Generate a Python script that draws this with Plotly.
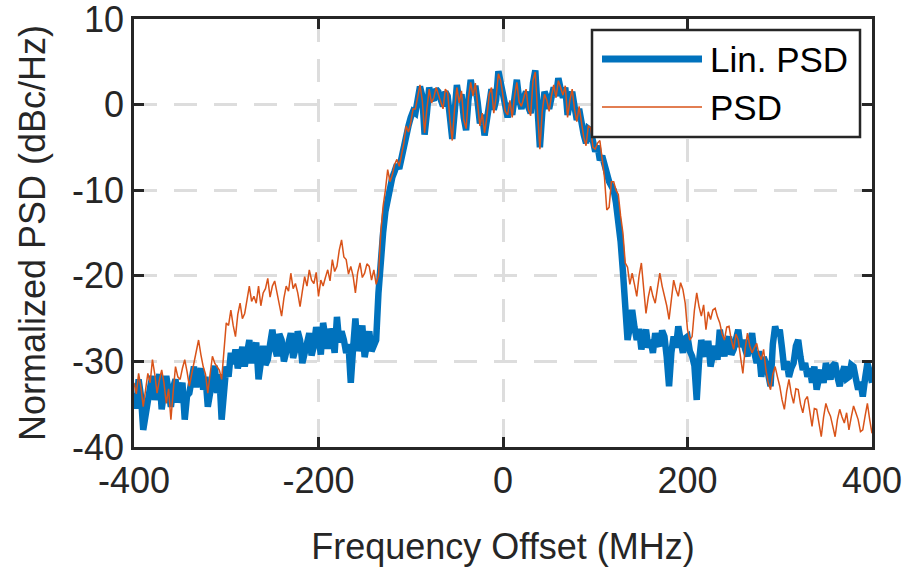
import plotly.graph_objects as go

# ---------------- data, 2.5 MHz grid ----------------
# Lin. PSD (blue)
lin_left = [  # -400 .. -140
    -33.7, -35.5, -32.1, -34.0, -38.0, -36.0, -34.5, -33.0, -31.7, -34.5,
    -32.9, -31.5, -35.6, -33.8, -31.7, -33.5, -35.3, -33.0, -32.1, -34.8,
    -33.7, -32.5, -36.8, -34.0, -33.7, -31.5, -30.6, -33.0, -31.4, -30.8,
    -33.3, -31.8, -35.3, -33.5, -31.7, -30.5, -33.7, -31.5, -36.8, -33.0,
    -30.6, -31.8, -29.0, -30.3, -28.6, -30.8, -29.8, -28.3, -30.6, -29.2,
    -27.5, -30.2, -29.0, -27.8, -32.1, -29.6, -28.2, -30.4, -29.8, -28.0,
    -26.3, -28.4, -29.4, -26.8, -27.5, -30.0, -29.0, -27.6, -26.7, -29.6,
    -28.6, -26.5, -27.5, -30.2, -29.0, -27.4, -26.7, -29.3, -28.2, -26.0,
    -27.1, -29.2, -25.5, -27.2, -28.5, -26.2, -27.0, -29.0, -24.8, -27.8,
    -26.5, -27.5, -29.0, -28.0, -32.5, -28.5, -25.0, -28.8, -27.0, -25.8,
    -29.5, -27.8, -26.5, -28.8, -28.0,
]
lin_band = [  # -137.5 .. 137.5
    -27.5, -22.0, -17.5, -15.0, -12.5, -11.0, -10.0, -8.5, -7.8, -7.0,
    -7.5, -6.0, -5.0, -3.0, -2.5, -1.5, -0.8, -1.0, 0.5, 2.1,
    1.0, -3.5, -1.0, 2.0, 0.8, 0.5, 1.8, 1.5, 0.6, -0.2,
    1.5, 1.0, -1.5, -4.0, -1.0, 2.3, 0.5, 1.2, -1.5, -3.0,
    0.5, 2.9, 1.2, 2.2, 0.3, -2.2, -1.2, -3.6, -1.8, 0.8,
    1.8, -0.6, 0.5, 3.9, 2.5, 0.8, -0.5, -1.5, 0.2, -1.2,
    0.8, 2.9, 0.6, -0.5, 0.8, 1.5, -0.3, -1.0, 2.5, 4.0,
    -0.5, -5.0, -1.0, 1.5, 0.8, -0.5, 0.8, 2.0, 1.0, 3.1,
    1.8, 0.8, 2.0, -1.2, 0.2, 1.5, -0.2, -1.8, -0.5, -2.5,
    -3.5, -4.5, -2.8, -3.0, -4.8, -5.5, -4.8, -6.5, -6.0, -7.2,
    -8.5, -9.0, -9.5, -10.0, -11.5, -13.5, -16.0, -19.5, -23.0, -27.5,
    -26.0,
]
lin_right = [  # 140 .. 400
    -24.0, -26.0, -27.5, -26.2, -28.6, -27.2, -26.3, -28.4, -27.5, -29.0,
    -26.7, -27.8, -28.2, -26.4, -27.1, -29.5, -32.9, -29.0, -27.1, -28.4,
    -25.9, -27.5, -29.0, -27.3, -27.1, -28.8, -29.4, -30.5, -34.5, -30.0,
    -27.5, -28.8, -29.4, -27.6, -30.6, -29.2, -28.2, -29.8, -26.3, -28.0,
    -29.4, -27.8, -27.1, -29.2, -28.6, -27.4, -26.3, -28.3, -27.5, -28.6,
    -29.4, -27.8, -26.7, -29.0, -30.2, -28.8, -31.8, -29.5, -30.2, -31.5,
    -32.9, -28.0, -25.9, -27.0, -26.3, -28.5, -31.0, -30.0, -31.8, -30.8,
    -30.2, -28.2, -27.5, -29.5, -31.0, -30.2, -31.8, -30.8, -32.5, -30.6,
    -33.3, -32.0, -31.0, -32.5, -30.2, -31.2, -32.1, -30.5, -30.2, -31.8,
    -32.9, -31.5, -30.6, -32.0, -31.8, -30.4, -30.6, -32.0, -33.3, -32.4,
    -34.1, -32.0, -30.2, -31.2, -32.5,
]

# PSD (orange)
psd_left = [  # -400 .. -140
    -32.5, -33.8, -31.4, -33.0, -35.3, -33.0, -31.4, -32.5, -29.8, -31.5,
    -33.7, -32.2, -31.0, -32.5, -34.9, -33.2, -36.8, -33.5, -30.6, -31.8,
    -32.1, -30.8, -29.8, -31.2, -32.9, -31.5, -30.2, -29.0, -27.5, -29.2,
    -30.6, -31.5, -33.7, -31.5, -29.4, -30.2, -30.6, -31.0, -32.1, -28.5,
    -25.5, -25.8, -24.0, -25.8, -27.1, -24.5, -23.2, -25.0, -24.4, -22.8,
    -21.2, -23.0, -22.4, -23.2, -21.2, -23.5, -22.0, -21.5, -20.3, -22.5,
    -21.2, -20.6, -22.0, -23.2, -24.7, -22.6, -21.2, -21.8, -19.7, -21.5,
    -20.9, -22.0, -23.6, -21.8, -20.1, -21.2, -19.3, -20.5, -20.9, -19.6,
    -22.4, -20.5, -21.2, -20.2, -19.3, -20.6, -18.1, -19.5, -18.9, -17.0,
    -15.8, -17.8, -18.1, -19.8, -18.9, -20.0, -22.0, -19.6, -18.5, -20.2,
    -19.7, -18.6, -18.9, -20.5, -19.3,
]
psd_band = [  # -137.5 .. 137.5
    -21.0, -20.0, -15.0, -11.9, -10.0, -7.6, -9.0, -8.2, -7.0, -6.4,
    -7.2, -6.0, -4.5, -2.5, -3.2, -2.1, -0.5, -0.5, 1.0, 2.3,
    0.5, -3.3, -0.5, 1.8, 0.2, 0.8, 2.0, 1.2, 0.2, -0.5,
    1.8, 1.4, -1.8, -4.2, -0.5, 2.0, 0.2, 1.6, -1.8, -2.8,
    0.8, 2.6, 1.0, 2.5, 0.0, -2.5, -1.0, -3.3, -1.5, 1.2,
    2.0, -1.0, 0.8, 3.6, 2.8, 1.2, -0.8, -1.2, 0.5, -1.5,
    1.0, 2.6, 0.3, -0.2, 1.0, 1.8, -0.6, -1.3, 2.8, 3.8,
    -1.0, -5.2, -0.8, 1.2, 0.5, -0.8, 1.0, 2.3, 0.8, 2.8,
    2.0, 1.1, 2.2, -1.5, 0.5, 1.8, -0.5, -2.0, -0.2, -2.2,
    -3.8, -4.8, -2.5, -2.7, -5.0, -5.2, -4.5, -4.2, -6.5, -8.5,
    -12.3, -12.0, -9.0, -9.0, -10.0, -10.5, -13.0, -15.0, -18.5, -19.0,
    -21.0,
]
psd_right = [  # 140 .. 400
    -19.7, -21.0, -22.4, -20.0, -18.5, -21.5, -24.4, -22.5, -21.2, -22.4,
    -23.2, -21.4, -19.7, -21.2, -22.4, -23.5, -25.1, -22.8, -20.5, -21.6,
    -22.4, -20.8, -21.6, -23.2, -26.3, -27.5, -27.1, -24.0, -22.0, -23.6,
    -24.7, -23.4, -26.3, -24.2, -25.1, -24.0, -23.8, -24.8, -25.5, -26.8,
    -27.5, -26.0, -25.9, -27.5, -28.6, -26.8, -27.5, -29.5, -31.4, -28.5,
    -26.7, -28.2, -29.0, -28.4, -27.9, -29.2, -29.8, -28.6, -31.0, -32.5,
    -33.3, -31.5, -30.6, -31.8, -32.9, -34.5, -35.6, -33.5, -32.1, -33.8,
    -34.9, -33.2, -33.3, -35.0, -36.0, -34.5, -34.1, -35.8, -37.6, -35.5,
    -35.6, -37.2, -38.8, -36.5, -34.9, -35.8, -36.4, -37.6, -38.8, -36.8,
    -35.6, -36.5, -37.2, -36.0, -38.0, -36.5, -35.2, -36.0, -36.8, -38.2,
    -38.0, -36.4, -34.9, -36.8, -38.4,
]

lin_psd = lin_left + lin_band + lin_right
psd = psd_left + psd_band + psd_right
freq = [i * 2.5 for i in range(-160, 161)]  # -400 .. 400 MHz

x_ticks = [-400, -200, 0, 200, 400]
x_tick_text = ["-400", "-200", "0", "200", "400"]
y_ticks = [-40, -30, -20, -10, 0, 10]
y_tick_text = ["-40", "-30", "-20", "-10", "0", "10"]
series_names = ["Lin. PSD", "PSD"]

# ---------------- styling ----------------
BLUE = "#0072BD"
ORANGE = "#D95319"
AX = "#262626"
FONT = "Liberation Sans"

fig = go.Figure()
fig.add_trace(go.Scatter(x=freq, y=lin_psd, mode="lines", name=series_names[0],
                         line=dict(color=BLUE, width=6.5), showlegend=False))
fig.add_trace(go.Scatter(x=freq, y=psd, mode="lines", name=series_names[1],
                         line=dict(color=ORANGE, width=1.5), showlegend=False))

axis_common = dict(
    showline=True, linecolor=AX, linewidth=2.5, mirror="ticks",
    ticks="inside", ticklen=10, tickwidth=2.5, tickcolor=AX,
    showgrid=True, gridcolor="#dddddd", gridwidth=2.5, griddash="23px,17px",
    zeroline=False, ticklabeloverflow="allow", automargin=False,
    tickfont=dict(family=FONT, size=36, color=AX),
)

fig.update_layout(
    width=904, height=567,
    margin=dict(l=134, r=32, t=19, b=120),
    paper_bgcolor="white", plot_bgcolor="white",
    font=dict(family=FONT, size=36, color=AX),
    xaxis=dict(range=[-400, 400], tickvals=x_ticks, ticktext=x_tick_text, **axis_common,
               title=dict(text="Frequency Offset (MHz)",
                          font=dict(family=FONT, size=36, color=AX), standoff=34)),
    yaxis=dict(range=[-40, 10], tickvals=y_ticks, ticktext=y_tick_text, **axis_common,
               title=dict(text="Normalized PSD (dBc/Hz)",
                          font=dict(family=FONT, size=36, color=AX), standoff=16)),
)

# Legend (MATLAB style: opaque box inside the axes, long line samples)
def px_x(p):
    return (p - 134) / 738.0

def px_y(p):
    return (447 - p) / 428.0

fig.add_shape(type="rect", xref="paper", yref="paper",
              x0=px_x(592), x1=px_x(860), y0=px_y(137), y1=px_y(30),
              fillcolor="white", line=dict(color=AX, width=2.5), layer="above")
fig.add_shape(type="line", xref="paper", yref="paper",
              x0=px_x(602), x1=px_x(702), y0=px_y(59), y1=px_y(59),
              line=dict(color=BLUE, width=7), layer="above")
fig.add_shape(type="line", xref="paper", yref="paper",
              x0=px_x(602), x1=px_x(702), y0=px_y(107), y1=px_y(107),
              line=dict(color=ORANGE, width=1.5), layer="above")
for name, yy in zip(series_names, [59, 107]):
    fig.add_annotation(xref="paper", yref="paper", x=px_x(708), y=px_y(yy),
                       text=name, showarrow=False, xanchor="left", yanchor="middle",
                       font=dict(family=FONT, size=35, color="black"))

fig.write_html("out.html")
